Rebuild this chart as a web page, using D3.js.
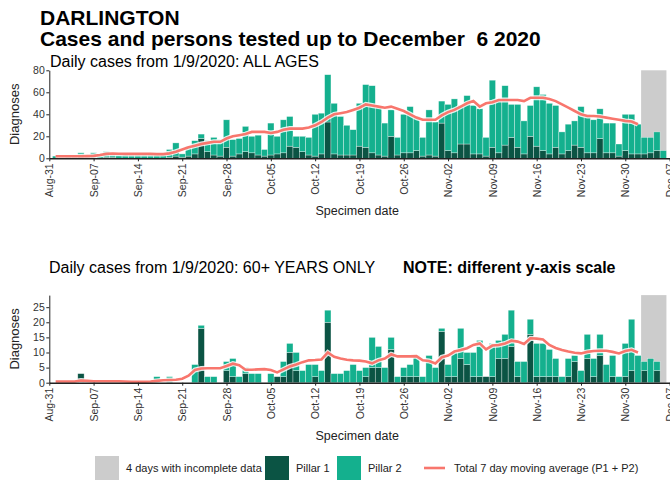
<!DOCTYPE html>
<html>
<head>
<meta charset="utf-8">
<script src="https://cdn.jsdelivr.net/npm/d3@7"></script>
<style>
  body { margin: 0; background: #fff; }
  svg { display: block; font-family: "Liberation Sans", Arial, sans-serif; }
</style>
</head>
<body>
<svg id="chart" width="670" height="485"></svg>
<script>
// daily values from 1 Sep 2020 to 6 Dec 2020 (97 days)
const allPillar1 = [0,0,0,0,3,0,0,0,1,1,0,0,0,0,0,0,0,0,1,2,1,2,4,18,6,3,2,10,2,4,
  6,5,3,2,3,4,5,11,10,6,3,2,4,33,4,3,3,3,11,10,5,3,2,20,3,5,5,7,2,3,
  2,32,7,5,13,13,4,4,2,10,5,12,19,10,4,20,11,7,4,10,4,7,12,10,5,5,18,5,5,2,
  7,4,4,4,5,7,0];
const allPillar2 = [2,1,3,2,2,2,5,3,5,3,3,4,3,4,3,4,3,4,7,12,3,9,12,4,10,16,15,25,15,14,
  23,15,18,6,29,16,30,27,10,14,16,38,37,43,46,35,27,23,39,57,61,43,30,24,16,35,42,31,17,41,
  31,20,42,49,35,44,44,41,17,61,48,54,30,39,30,28,54,51,46,38,20,24,22,37,35,30,27,27,27,11,
  33,36,27,15,14,17,7];
// 7 day moving average (ends 2 Dec)
const allAverage = [1.8,1.8,1.8,1.8,1.9,2,2.2,3,4,4.4,4.2,4,4,4,4,4,3.8,3.8,4.5,6,8,10,11.5,13,14,15,15,18,20,21,
  22,24,24,24,23,24,26,27,27,27,28,30,33,37,40,41,42,44,46,49,48,47,46,47,45,43,40,37,35,35,
  35,39,42,44,47,50,52,47,50,51,53,53,53,53,52,55,55,55,54,52,49,46,43,40,38.5,38.5,38,37,36,35,
  34,33.5,31];

const oldPillar1 = [0,0,0,0,3,0,0,0,0,0,0,0,0,0,0,0,0,0,0,0,0,0,0,18,0,0,0,4,2,0,
  3,0,0,0,0,2,2,10,4,0,0,2,0,20,0,0,0,0,0,2,5,5,0,11,0,2,2,2,0,0,
  0,17,2,2,8,6,2,2,2,2,8,8,12,2,0,16,2,2,2,2,0,2,7,0,8,2,9,0,2,0,
  2,4,0,4,0,4,0];
const oldPillar2 = [0,0,0,0,0,0,0,0,0,0,0,0,0,0,0,0,2,0,2,0,0,0,6,1,2,2,0,3,6,2,
  2,3,3,0,3,0,5,3,6,4,6,4,4,4,3,3,4,6,4,3,10,7,5,4,2,3,4,7,2,9,
  5,1,4,8,10,4,8,12,0,11,6,8,12,5,7,5,11,11,9,6,2,6,2,4,8,6,7,6,7,2,
  11,17,9,3,8,3,0];
const oldAverage = [0.4,0.4,0.4,0.4,0.7,0.6,0.5,0.5,0.5,0.5,0.5,0.4,0.3,0.3,0.3,0.4,0.6,0.8,0.9,1,1.3,2.3,4.2,4.7,4.8,4.8,4.8,5.5,6.3,5.8,
  4.3,4.3,4.4,4.5,4.2,3.4,4.4,5.4,6,6.8,7.4,7.5,7.7,10,8.6,8,7.6,7.4,7.3,7,6.4,7.4,8,9.4,8.7,8.7,8.7,8.8,7.4,7.2,
  6.4,8.4,9,10.3,10.8,11.4,12.5,13,11,12.3,12.5,13,13.9,13.6,12.8,14.7,14.6,14.3,12.5,11.5,10.8,10.3,9.9,9.7,10.2,10.5,10.6,10.6,10.2,9.7,
  10.5,10.9,10];

const incompleteDays = 4;
const allTicks = [0, 20, 40, 60, 80];
const oldTicks = [0, 5, 10, 15, 20, 25];

const COL_P1   = '#0b5444';
const COL_P2   = '#14b08e';
const COL_AVG  = '#f8766d';
const COL_GREY = '#cccccc';

const svg = d3.select('#chart');

const startDay = new Date(Date.UTC(2020, 8, 1));
const endDay   = new Date(Date.UTC(2020, 11, 7));
const days     = d3.utcDay.range(startDay, endDay);

const x = d3.scaleUtc()
    .domain([new Date(Date.UTC(2020, 7, 31)), endDay])
    .range([49.3, 669.6]);
const barW = x(days[1]) - x(days[0]);
const weeks = d3.utcMonday.range(new Date(Date.UTC(2020, 7, 31)), new Date(Date.UTC(2020, 11, 8)));

function drawPanel (p1, p2, avg, yMax, ticks, top, bottom) {
    const y = d3.scaleLinear().domain([0, yMax]).range([bottom, top]);
    const g = svg.append('g');

    const rows = days.map((d, i) => ({ date: d, p1: p1[i], p2: p2[i] }));
    const stacked = d3.stack().keys(['p1', 'p2'])(rows);

    // incomplete days background
    const greyStart = days[days.length - incompleteDays];
    g.append('rect')
        .attr('x', x(greyStart) - barW / 2)
        .attr('y', y(yMax))
        .attr('width', barW * incompleteDays)
        .attr('height', y(0) - y(yMax))
        .attr('fill', COL_GREY);

    g.selectAll('g.series')
        .data(stacked)
        .join('g')
        .attr('fill', (s, i) => i === 0 ? COL_P1 : COL_P2)
        .selectAll('rect')
        .data(s => s)
        .join('rect')
        .attr('x', d => x(d.data.date) - barW / 2)
        .attr('y', d => y(d[1]))
        .attr('width', barW)
        .attr('height', d => y(d[0]) - y(d[1]))
        .attr('stroke', 'rgba(255,255,255,0.55)')
        .attr('stroke-width', 0.6);

    const line = d3.line()
        .x((v, i) => x(days[i]))
        .y(v => y(v));

    g.append('path')
        .datum(avg)
        .attr('d', line)
        .attr('fill', 'none')
        .attr('stroke', '#fff')
        .attr('stroke-width', 5)
        .attr('stroke-opacity', 0.85);
    g.append('path')
        .datum(avg)
        .attr('d', line)
        .attr('fill', 'none')
        .attr('stroke', COL_AVG)
        .attr('stroke-width', 2.6);

    // axes
    const yAxis = g.append('g')
        .attr('transform', `translate(${x.range()[0]},0)`)
        .call(d3.axisLeft(y).tickValues(ticks).tickSize(3).tickSizeOuter(0));
    yAxis.select('.domain').attr('stroke', '#222');
    yAxis.selectAll('.tick line').attr('stroke', '#222');
    yAxis.selectAll('.tick text')
        .attr('font-size', 10.5)
        .attr('fill', '#333')
        .attr('x', -4.5);

    const xAxis = g.append('g')
        .attr('transform', `translate(0,${bottom})`)
        .call(d3.axisBottom(x).tickValues(weeks).tickFormat(d3.utcFormat('%b-%d')).tickSize(3).tickSizeOuter(0));
    xAxis.select('.domain').attr('stroke', '#222').attr('stroke-width', 1.4);
    xAxis.selectAll('.tick line').attr('stroke', '#222');
    xAxis.selectAll('.tick text')
        .attr('font-size', 10.5)
        .attr('fill', '#333')
        .attr('transform', 'rotate(-90)')
        .attr('text-anchor', 'end')
        .attr('x', -5)
        .attr('y', 0)
        .attr('dy', '0.35em');

    svg.append('text')
        .attr('transform', `translate(19,${(top + bottom) / 2}) rotate(-90)`)
        .attr('text-anchor', 'middle')
        .attr('font-size', 13)
        .attr('fill', '#222')
        .text('Diagnoses');

    svg.append('text')
        .attr('x', (x.range()[0] + 665) / 2)
        .attr('y', bottom + 57)
        .attr('text-anchor', 'middle')
        .attr('font-size', 12.5)
        .attr('fill', '#222')
        .text('Specimen date');
}

// titles
svg.append('text').attr('x', 40).attr('y', 25)
    .attr('font-size', 21).attr('font-weight', 'bold').text('DARLINGTON');
svg.append('text').attr('x', 40).attr('y', 46)
    .attr('font-size', 21).attr('font-weight', 'bold')
    .attr('xml:space', 'preserve').style('white-space', 'pre')
    .text('Cases and persons tested up to December  6 2020');
svg.append('text').attr('x', 50).attr('y', 67)
    .attr('font-size', 16).text('Daily cases from 1/9/2020: ALL AGES');
svg.append('text').attr('x', 49).attr('y', 272.5)
    .attr('font-size', 16).text('Daily cases from 1/9/2020: 60+ YEARS ONLY');
svg.append('text').attr('x', 403).attr('y', 272.5)
    .attr('font-size', 16).attr('font-weight', 'bold').text('NOTE: different y-axis scale');

drawPanel(allPillar1, allPillar2, allAverage, 80, allTicks, 70.3, 158.3);
drawPanel(oldPillar1, oldPillar2, oldAverage, 29, oldTicks, 295.1, 382.7);

// legend
const legend = svg.append('g').attr('font-size', 11).attr('fill', '#222');
const legendItems = [
    { label: '4 days with incomplete data', color: COL_GREY, x: 95 },
    { label: 'Pillar 1', color: COL_P1, x: 265 },
    { label: 'Pillar 2', color: COL_P2, x: 337 }
];
legendItems.forEach(it => {
    legend.append('rect')
        .attr('x', it.x).attr('y', 456).attr('width', 24).attr('height', 24)
        .attr('fill', it.color);
    legend.append('text')
        .attr('x', it.x + 31).attr('y', 472).text(it.label);
});
legend.append('line')
    .attr('x1', 424).attr('x2', 445).attr('y1', 468).attr('y2', 468)
    .attr('stroke', COL_AVG).attr('stroke-width', 2.6);
legend.append('text')
    .attr('x', 454).attr('y', 472).text('Total 7 day moving average (P1 + P2)');
</script>
</body>
</html>
